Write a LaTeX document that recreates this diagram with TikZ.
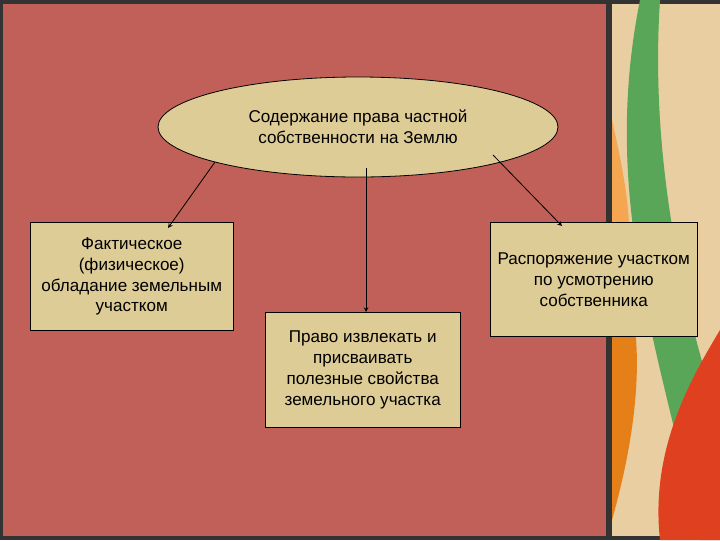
\documentclass[tikz,border=0pt]{standalone}
\usepackage{fontspec}
\usetikzlibrary{shapes.geometric}
\setmainfont{Liberation Sans}
\begin{document}
\begin{tikzpicture}[x=0.75pt,y=-0.75pt,
  box/.style={draw=black,fill=tan1,line width=0.6pt,align=center,inner sep=0pt,font=\fontsize{12.8}{15.7}\selectfont},
  arr/.style={->,>=stealth,line width=0.6pt,black}]
\definecolor{bg}{RGB}{192,96,88}
\definecolor{tan1}{RGB}{222,204,150}
\definecolor{deco}{RGB}{232,206,160}
\useasboundingbox (0,0) rectangle (720,540);
\fill[bg] (0,0) rectangle (720,540);
% right decorative strip
\fill[deco] (612,0) rectangle (720,540);
\fill[black!80] (606,0) rectangle (612,540);
\fill[black!80] (0,0) rectangle (720,4);
\fill[black!80] (0,536) rectangle (720,540);
\fill[black!80] (0,0) rectangle (3,540);
\fill[green!30!gray] (640,0) .. controls (600,200) and (660,350) .. (700,540) -- (720,540) -- (720,420) .. controls (680,300) and (650,150) .. (660,0) -- cycle;
\fill[orange!60!brown] (612,250) .. controls (650,320) and (640,420) .. (612,520) -- cycle;
\fill[orange!50!deco] (612,120) .. controls (630,200) and (640,260) .. (612,330) -- cycle;
\fill[red!50!brown] (660,540) .. controls (650,450) and (690,380) .. (720,330) -- (720,540) -- cycle;
% nodes
\node[box,ellipse,minimum width=300pt,minimum height=75pt] (top) at (358,127) {Содержание права частной\\собственности на Землю};
\node[box,minimum width=152pt,minimum height=81pt,anchor=north west] (b1) at (30,222) {Фактическое\\(физическое)\\обладание земельным\\участком};
\node[box,minimum width=155pt,minimum height=85.5pt,anchor=north west] (b2) at (490,222) {Распоряжение участком\\по усмотрению\\собственника};
\node[box,minimum width=146pt,minimum height=86pt,anchor=north west] (b3) at (265,312) {Право извлекать и\\присваивать\\полезные свойства\\земельного участка};
\coordinate (s1) at (215,162);
\coordinate (s2) at (366,168);
\coordinate (s3) at (493,155);
\coordinate (e1) at (168,228);
\coordinate (e3) at (562,226);
\draw[arr] (s1) -- (e1);
\draw[arr] (s2) -- (b3.north -| s2);
\draw[arr] (s3) -- (e3);
\end{tikzpicture}
\end{document}
